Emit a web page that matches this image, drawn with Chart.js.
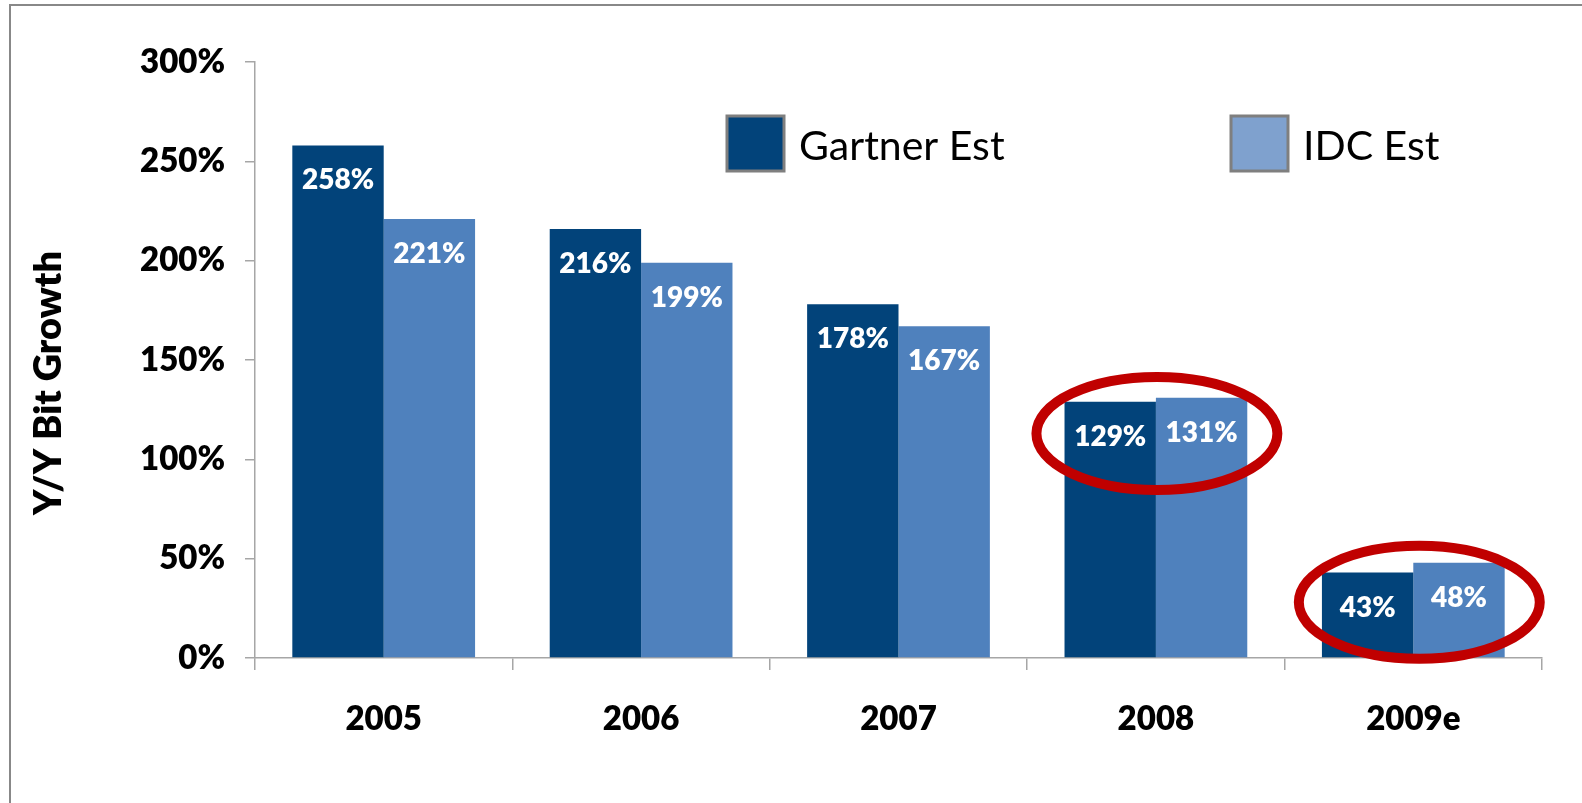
<!DOCTYPE html>
<html>
<head>
<meta charset="utf-8">
<script src="https://cdn.jsdelivr.net/npm/chart.js@4/dist/chart.umd.min.js"></script>
<style>
  html, body { margin: 0; padding: 0; background: #ffffff; }
  #wrap { position: relative; width: 1582px; height: 803px; }
  canvas { display: block; }
</style>
</head>
<body>
<div id="wrap"><canvas id="c" width="1582" height="803"></canvas></div>
<script>
const categories = ['2005', '2006', '2007', '2008', '2009e'];
const gartnerEst = [258, 216, 178, 129, 43];
const idcEst = [221, 199, 167, 131, 48];
const seriesNames = ['Gartner Est', 'IDC Est'];
const yTicks = [0, 50, 100, 150, 200, 250, 300];
const yAxisTitle = 'Y/Y Bit Growth';
const highlighted = ['2008', '2009e'];
const highlightCenters = [113, 28];

const DARK = '#02437A';
const LIGHT = '#4F81BD';
const LEGEND_LIGHT = '#7FA1CE';
const FONT = 'Lato, "Open Sans", sans-serif';
const HEAVY = '800';

const framePlugin = {
  id: 'frame',
  beforeDraw(chart) {
    const ctx = chart.ctx;
    ctx.save();
    ctx.fillStyle = '#ffffff';
    ctx.fillRect(0, 0, chart.width, chart.height);
    ctx.strokeStyle = '#888888';
    ctx.lineWidth = 2;
    ctx.beginPath();
    ctx.moveTo(chart.width, 5);
    ctx.lineTo(10, 5);
    ctx.lineTo(10, chart.height);
    ctx.stroke();
    ctx.restore();
  }
};

const labelPlugin = {
  id: 'barLabels',
  afterDatasetsDraw(chart) {
    const ctx = chart.ctx;
    ctx.save();
    ctx.fillStyle = '#ffffff';
    ctx.font = HEAVY + ' 28px ' + FONT;
    ctx.textAlign = 'center';
    ctx.textBaseline = 'middle';
    chart.data.datasets.forEach((ds, di) => {
      const meta = chart.getDatasetMeta(di);
      meta.data.forEach((bar, i) => {
        ctx.fillText(ds.data[i] + '%', bar.x, bar.y + 35);
      });
    });
    ctx.restore();
  }
};

const ellipsePlugin = {
  id: 'ellipses',
  afterDatasetsDraw(chart) {
    const ctx = chart.ctx;
    const xs = chart.scales.x, ys = chart.scales.y;
    const catW = xs.width / categories.length;
    ctx.save();
    ctx.strokeStyle = '#C00000';
    ctx.lineWidth = 10;
    highlighted.forEach((cat, k) => {
      const i = categories.indexOf(cat);
      const cx = xs.getPixelForValue(i) + (k === 1 ? 6 : 1);
      const cy = ys.getPixelForValue(highlightCenters[k]);
      ctx.beginPath();
      ctx.ellipse(cx, cy, catW * 0.468, 56.5, 0, 0, Math.PI * 2);
      ctx.stroke();
    });
    ctx.restore();
  }
};

const axisTitlePlugin = {
  id: 'axisTitle',
  afterDraw(chart) {
    const ctx = chart.ctx;
    const ca = chart.chartArea;
    ctx.save();
    ctx.translate(49, (ca.top + ca.bottom) / 2 + 23);
    ctx.rotate(-Math.PI / 2);
    ctx.fillStyle = '#000000';
    ctx.font = HEAVY + ' 38px ' + FONT;
    ctx.textAlign = 'center';
    ctx.textBaseline = 'middle';
    ctx.fillText(yAxisTitle, 0, 0);
    ctx.restore();
  }
};

const legendPlugin = {
  id: 'customLegend',
  afterDraw(chart) {
    const ctx = chart.ctx;
    const items = [
      { x: 727, color: DARK, text: seriesNames[0] },
      { x: 1231, color: LEGEND_LIGHT, text: seriesNames[1] }
    ];
    ctx.save();
    items.forEach(it => {
      ctx.fillStyle = it.color;
      ctx.fillRect(it.x, 116, 57, 55);
      ctx.strokeStyle = '#7f7f7f';
      ctx.lineWidth = 3;
      ctx.strokeRect(it.x, 116, 57, 55);
      ctx.fillStyle = '#000000';
      ctx.font = '41px ' + FONT;
      ctx.textAlign = 'left';
      ctx.textBaseline = 'middle';
      ctx.fillText(it.text, it.x + 72, 147);
    });
    ctx.restore();
  }
};

new Chart(document.getElementById('c'), {
  type: 'bar',
  data: {
    labels: categories,
    datasets: [
      { label: seriesNames[0], data: gartnerEst, backgroundColor: DARK, borderWidth: 0 },
      { label: seriesNames[1], data: idcEst, backgroundColor: LIGHT, borderWidth: 0 }
    ]
  },
  options: {
    responsive: false,
    animation: false,
    devicePixelRatio: 1,
    layout: { padding: { left: 0, right: 40, top: 62, bottom: 0 } },
    datasets: { bar: { categoryPercentage: 0.71, barPercentage: 1.0 } },
    plugins: {
      legend: { display: false },
      tooltip: { enabled: false }
    },
    scales: {
      x: {
        grid: { display: true, offset: true, drawOnChartArea: false, drawTicks: true, tickLength: 12, color: '#a6a6a6', lineWidth: 1.5 },
        border: { display: true, color: '#a6a6a6', width: 1.5 },
        ticks: { color: '#000000', font: { family: FONT, size: 33, weight: HEAVY }, padding: 30 },
        afterFit(scale) { scale.height = 145; }
      },
      y: {
        min: 0, max: 300,
        afterBuildTicks(scale) { scale.ticks = yTicks.map(v => ({ value: v })); },
        grid: { display: true, drawOnChartArea: false, drawTicks: true, tickLength: 10, color: '#a6a6a6', lineWidth: 1.5 },
        border: { display: true, color: '#a6a6a6', width: 1.5 },
        ticks: { color: '#000000', font: { family: FONT, size: 33, weight: HEAVY }, padding: 20, callback: v => v + '%' },
        title: { display: false, text: yAxisTitle },
        afterFit(scale) { scale.width = 255; }
      }
    }
  },
  plugins: [framePlugin, labelPlugin, ellipsePlugin, axisTitlePlugin, legendPlugin]
});
</script>
</body>
</html>
